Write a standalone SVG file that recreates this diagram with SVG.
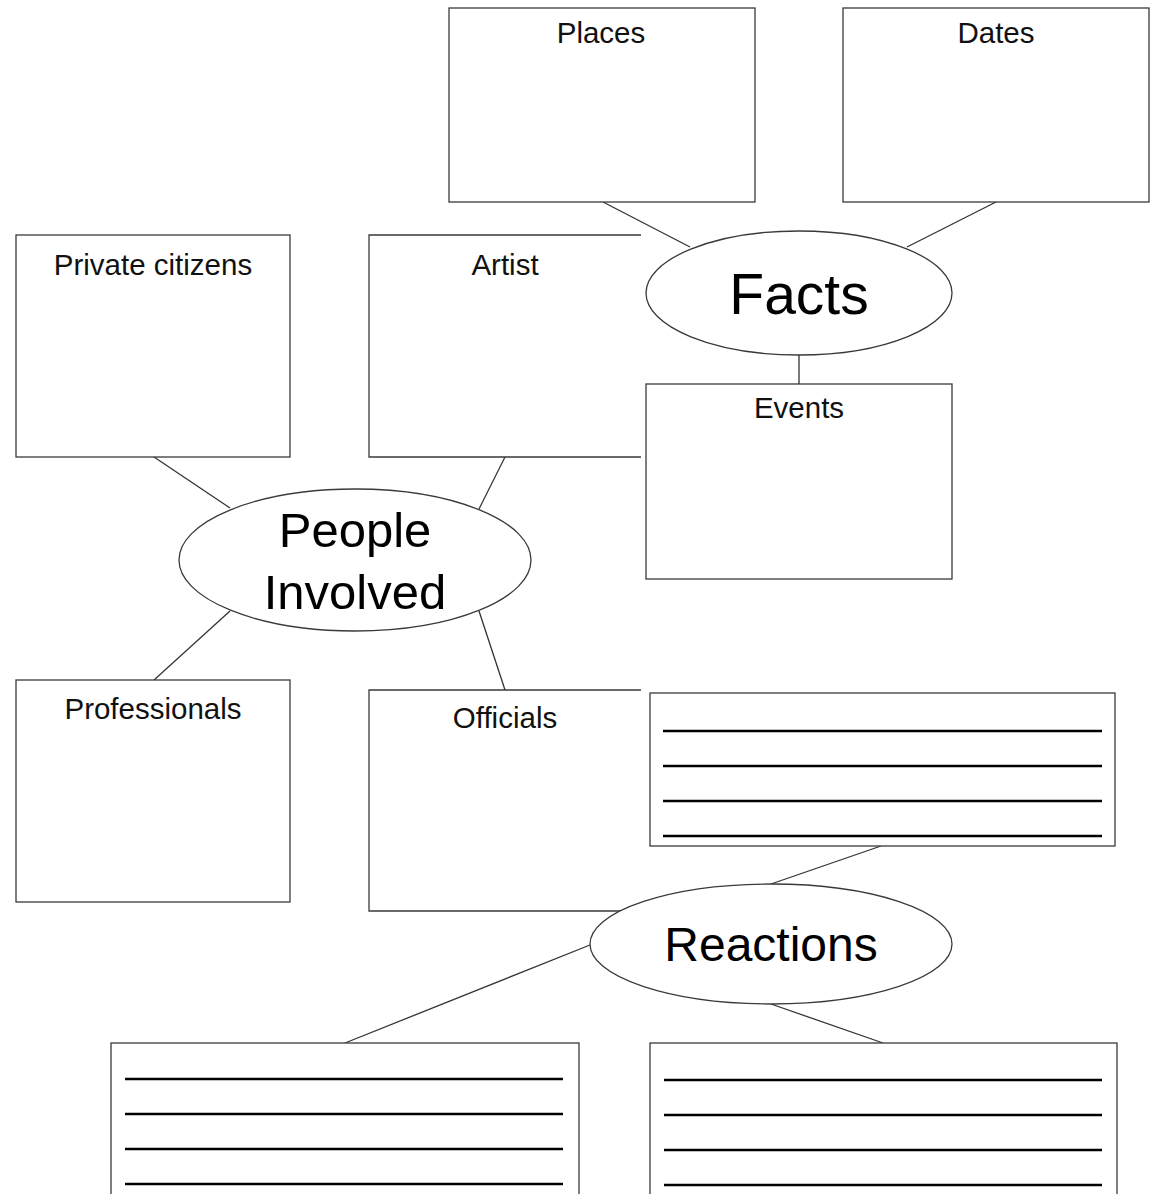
<svg xmlns="http://www.w3.org/2000/svg" width="1154" height="1194" viewBox="0 0 1154 1194">
<style>
.box{fill:#fff;stroke:#3a3a3a;stroke-width:1.3}
.open{fill:none;stroke:#3a3a3a;stroke-width:1.3}
.oval{fill:#fff;stroke:#3a3a3a;stroke-width:1.3}
.conn line{stroke:#333;stroke-width:1.3}
.wl{stroke:#000;stroke-width:2.6}
.lbl{font-family:"Liberation Sans",Arial,sans-serif;font-size:29.5px;fill:#111;text-anchor:middle}
.big{font-family:"Liberation Sans",Arial,sans-serif;fill:#000;text-anchor:middle}
</style>
<rect width="1154" height="1194" fill="#fff"/>
<g id="connectors" class="conn">
<line x1="603" y1="202" x2="690" y2="247"/>
<line x1="996" y1="202" x2="907" y2="247"/>
<line x1="799" y1="355" x2="799" y2="384"/>
<line x1="154" y1="457" x2="230" y2="508"/>
<line x1="505" y1="457" x2="479" y2="509"/>
<line x1="230" y1="611" x2="154" y2="680"/>
<line x1="479" y1="611" x2="505" y2="690"/>
<line x1="881" y1="846" x2="771" y2="884"/>
<line x1="590" y1="945" x2="345" y2="1043"/>
<line x1="771" y1="1004" x2="883" y2="1043"/>
</g>
<g id="places"><rect class="box" x="449" y="8" width="306" height="194"/><text class="lbl" x="601" y="43">Places</text></g>
<g id="dates"><rect class="box" x="843" y="8" width="306" height="194"/><text class="lbl" x="996" y="43">Dates</text></g>
<g id="private-citizens"><rect class="box" x="16" y="235" width="274" height="222"/><text class="lbl" x="153" y="275">Private citizens</text></g>
<g id="artist"><path class="open" d="M641 235 H369 V457 H641"/><text class="lbl" x="505" y="275">Artist</text></g>
<g id="facts"><ellipse class="oval" cx="799" cy="293" rx="153" ry="62"/><text class="big" x="799" y="314" font-size="57">Facts</text></g>
<g id="events"><rect class="box" x="646" y="384" width="306" height="195"/><text class="lbl" x="799" y="418">Events</text></g>
<g id="people-involved"><ellipse class="oval" cx="355" cy="560" rx="176" ry="71"/><text class="big" font-size="49" x="355" y="547">People</text><text class="big" font-size="49" x="355" y="609">Involved</text></g>
<g id="professionals"><rect class="box" x="16" y="680" width="274" height="222"/><text class="lbl" x="153" y="719">Professionals</text></g>
<g id="officials"><path class="open" d="M641 690 H369 V911 H641"/><text class="lbl" x="505" y="728">Officials</text></g>
<g id="reaction-box-1"><rect class="box" x="650" y="693" width="465" height="153"/>
<line class="wl" x1="663" y1="731" x2="1102" y2="731"/><line class="wl" x1="663" y1="766" x2="1102" y2="766"/><line class="wl" x1="663" y1="801" x2="1102" y2="801"/><line class="wl" x1="663" y1="836" x2="1102" y2="836"/></g>
<g id="reactions"><ellipse class="oval" cx="771" cy="944" rx="181" ry="60"/><text class="big" font-size="48" x="771" y="961">Reactions</text></g>
<g id="reaction-box-2"><rect class="box" x="111" y="1043" width="468" height="170"/>
<line class="wl" x1="125" y1="1079" x2="563" y2="1079"/><line class="wl" x1="125" y1="1114" x2="563" y2="1114"/><line class="wl" x1="125" y1="1149" x2="563" y2="1149"/><line class="wl" x1="125" y1="1184" x2="563" y2="1184"/></g>
<g id="reaction-box-3"><rect class="box" x="650" y="1043" width="467" height="170"/>
<line class="wl" x1="664" y1="1080" x2="1102" y2="1080"/><line class="wl" x1="664" y1="1115" x2="1102" y2="1115"/><line class="wl" x1="664" y1="1150" x2="1102" y2="1150"/><line class="wl" x1="664" y1="1185" x2="1102" y2="1185"/></g>
</svg>
